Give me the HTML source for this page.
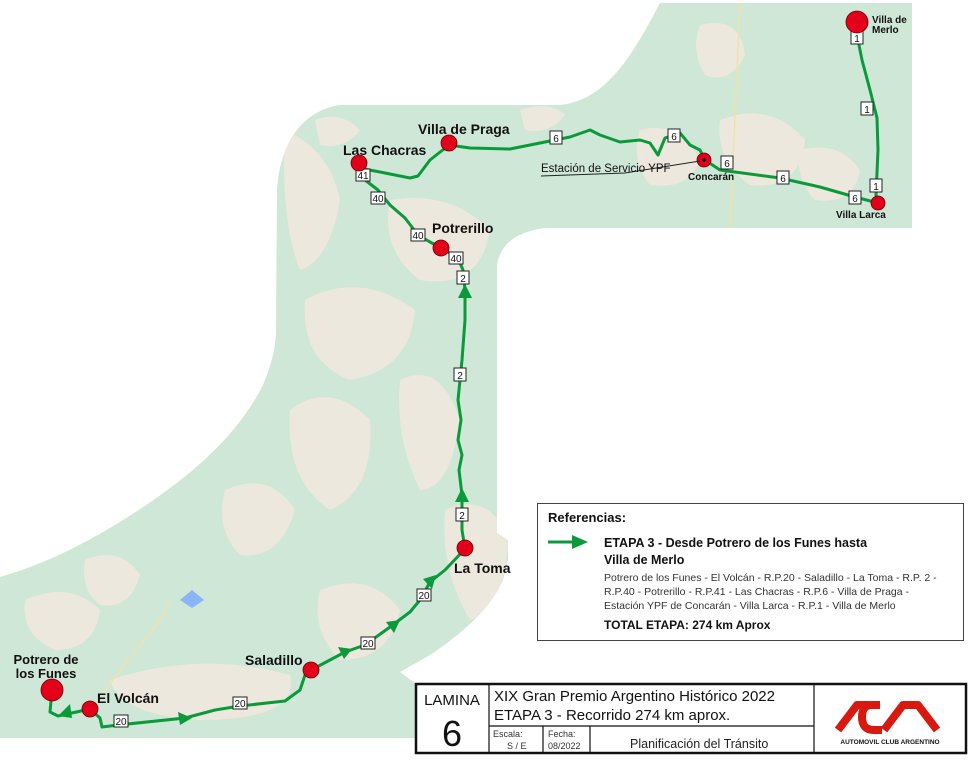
<!DOCTYPE html>
<html><head><meta charset="utf-8"><style>
html,body{margin:0;padding:0;background:#fff;width:976px;height:764px;overflow:hidden}
svg{display:block}
text{font-family:"Liberation Sans",sans-serif}
</style></head><body>
<svg width="976" height="764" viewBox="0 0 976 764" xmlns="http://www.w3.org/2000/svg">
<defs>
<clipPath id="mc"><path d="M660,3 L912,3 L912,228 L545,228 C515,232 500,245 497,265 L497,533 L508,540 L508,560 L503,580 C490,610 460,635 430,655 L400,672 L415,683 L415,738 L0,738 L0,577 C60,560 120,525 170,488 C215,455 245,420 262,387 C272,365 276,345 276,330 L277,190 C280,140 305,110 340,105 L560,105 C605,100 630,60 660,3 Z"/></clipPath>
</defs>
<g clip-path="url(#mc)">
<rect width="976" height="764" fill="#cfe7d6"/>
<g fill="#ede8dd">
<path d="M285,130 Q330,150 340,200 Q330,260 300,270 Q280,220 285,130 Z"/>
<path d="M390,200 Q450,190 490,230 Q480,290 420,280 Q380,250 390,200 Z"/>
<path d="M305,300 Q360,270 415,310 Q410,370 350,380 Q300,360 305,300 Z"/>
<path d="M290,410 Q330,380 370,420 Q375,490 330,510 Q285,480 290,410 Z"/>
<path d="M400,380 Q440,360 460,420 Q450,490 420,490 Q395,440 400,380 Z"/>
<path d="M445,510 Q490,490 508,540 Q505,610 470,620 Q440,570 445,510 Z"/>
<path d="M225,490 Q270,470 295,510 Q280,560 240,555 Q215,530 225,490 Z"/>
<path d="M110,680 Q200,650 290,675 Q300,720 200,720 Q120,715 110,680 Z"/>
<path d="M320,590 Q370,570 400,610 Q390,660 340,660 Q310,630 320,590 Z"/>
<path d="M25,600 Q70,580 100,610 Q95,650 55,650 Q20,635 25,600 Z"/>
<path d="M85,560 Q120,545 140,575 Q130,610 100,605 Q80,590 85,560 Z"/>
<path d="M640,130 Q680,120 700,160 Q690,190 650,185 Q630,160 640,130 Z"/>
<path d="M720,120 Q770,100 805,140 Q800,190 750,185 Q715,160 720,120 Z"/>
<path d="M800,150 Q840,140 860,170 Q855,205 815,200 Q795,180 800,150 Z"/>
<path d="M700,25 Q740,15 745,55 Q730,85 705,75 Q690,50 700,25 Z"/>
<path d="M520,110 Q550,100 565,115 Q550,135 525,130 Z"/>
<path d="M315,120 Q340,110 360,130 Q345,150 320,145 Z"/>
</g>
<path d="M180,600 l12,-10 l12,10 l-12,8 z" fill="#8ab4f8"/>
<path d="M740,3 L730,228" stroke="#f1e2a8" stroke-width="1.5" fill="none"/>
<path d="M90,709 L160,620 L170,600" stroke="#f1e2a8" stroke-width="1.5" fill="none"/>
</g>
<g fill="none" stroke="#0a9a3a" stroke-width="3" stroke-linejoin="round">
<path d="M52,690 L50,712 L58,716 L90,709"/>
<path d="M90,709 L100,718 L102,727 L118,725 L185,718 L215,710 L240,706 L285,701 L300,690 L305,675 L311,670"/>
<path d="M311,670 L330,660 L345,652 L365,645 L390,627 L410,612 L420,600 L430,582 L445,570 L465,549"/>
<path d="M465,549 L462,530 L462,495 L459,470 L462,455 L458,440 L461,420 L458,400 L462,360 L465,320 L465,290 L463,270 L458,258 L441,248"/>
<path d="M441,248 L430,242 L418,235 L405,218 L390,205 L378,190 L365,180 L359,163"/>
<path d="M359,168 L380,172 L395,175 L410,178 L418,176 L430,160 L449,145"/>
<path d="M449,145 L470,148 L510,149 L540,143 L570,137 L590,130 L600,135 L620,142 L640,140 L650,143 L658,155 L665,138 L680,133 L690,145 L700,150 L705,160"/>
<path d="M705,160 L720,170 L780,178 L820,187 L855,197 L878,203"/>
<path d="M878,203 L876,195 L878,150 L877,118 L870,90 L862,60 L857,35 L857,22"/>
</g>
<g fill="#0a9a3a">
<path d="M58,716 l12,-12 l2,14 z"/>
<path d="M192,718 l-14,-6 l2,13 z"/>
<path d="M352,649 l-14,-2 l6,12 z"/>
<path d="M400,620 l-14,2 l8,11 z"/>
<path d="M436,575 l-13,4 l9,10 z"/>
<path d="M462,488 l-7,14 h14 z"/>
<path d="M465,284 l-7,14 h14 z"/>
<path d="M857,30 l-5,10 h10 z"/>
</g>
<g font-size="10" text-anchor="middle">
<g fill="#fff" stroke="#222" stroke-width="1">
<rect x="114" y="715" width="14" height="12"/><rect x="233" y="697" width="14" height="12"/>
<rect x="361" y="637" width="14" height="12"/><rect x="417" y="589" width="14" height="12"/>
<rect x="456" y="508" width="12" height="13"/><rect x="454" y="368" width="12" height="13"/><rect x="457" y="271" width="12" height="13"/>
<rect x="449" y="252" width="14" height="12"/><rect x="411" y="229" width="14" height="12"/><rect x="371" y="192" width="14" height="12"/>
<rect x="356" y="169" width="14" height="12"/>
<rect x="550" y="131" width="12" height="13"/><rect x="668" y="129" width="12" height="13"/><rect x="721" y="156" width="12" height="13"/>
<rect x="777" y="171" width="12" height="13"/><rect x="849" y="191" width="12" height="13"/>
<rect x="851" y="31" width="12" height="13"/><rect x="861" y="102" width="12" height="13"/><rect x="870" y="179" width="12" height="13"/>
</g>
<g fill="#111">
<text x="121" y="725">20</text><text x="240" y="707">20</text><text x="368" y="647">20</text><text x="424" y="599">20</text>
<text x="462" y="519">2</text><text x="460" y="379">2</text><text x="463" y="282">2</text>
<text x="456" y="262">40</text><text x="418" y="239">40</text><text x="378" y="202">40</text><text x="363" y="179">41</text>
<text x="556" y="142">6</text><text x="674" y="140">6</text><text x="727" y="167">6</text><text x="783" y="182">6</text><text x="855" y="202">6</text>
<text x="857" y="42">1</text><text x="867" y="113">1</text><text x="876" y="190">1</text>
</g>
</g>
<g fill="#e3001b" stroke="#600" stroke-width="0.8">
<circle cx="52" cy="690" r="11"/><circle cx="90" cy="709" r="8"/><circle cx="311" cy="670" r="8"/>
<circle cx="465" cy="548" r="8"/><circle cx="441" cy="248" r="8"/><circle cx="359" cy="163" r="8"/>
<circle cx="449" cy="143" r="8"/><circle cx="704" cy="160" r="7"/><circle cx="878" cy="203" r="7"/><circle cx="857" cy="22" r="11"/>
</g>
<circle cx="704" cy="160" r="1.8" fill="#000"/>
<path d="M541,176 L625,173 L700,161" stroke="#222" stroke-width="1" fill="none"/>
<g fill="#111" font-weight="bold" font-size="14">
<text x="46" y="664" text-anchor="middle" font-size="13">Potrero de</text>
<text x="46" y="678" text-anchor="middle" font-size="13">los Funes</text>
<text x="97" y="703">El Volcán</text>
<text x="245" y="665">Saladillo</text>
<text x="454" y="573">La Toma</text>
<text x="432" y="233">Potrerillo</text>
<text x="343" y="155">Las Chacras</text>
<text x="418" y="134">Villa de Praga</text>
<text x="872" y="23" font-size="10">Villa de</text>
<text x="872" y="33" font-size="10">Merlo</text>
<text x="688" y="180" font-size="10">Concarán</text>
<text x="836" y="218" font-size="10">Villa Larca</text>
</g>
<text x="541" y="172" font-size="11.5" fill="#111">Estación de Servicio YPF</text>
<rect x="537.5" y="503.5" width="426" height="137" fill="#fff" stroke="#444" stroke-width="1"/>
<text x="548" y="522" font-size="13" font-weight="bold" fill="#111">Referencias:</text>
<path d="M548,542 H575" stroke="#0a9a3a" stroke-width="3"/>
<path d="M588,542 l-16,-7 v14 z" fill="#0a9a3a"/>
<text x="604" y="547" font-size="12.5" font-weight="bold" fill="#111">ETAPA 3 - Desde Potrero de los Funes hasta</text>
<text x="604" y="564" font-size="12.5" font-weight="bold" fill="#111">Villa de Merlo</text>
<g font-size="10.5" fill="#333">
<text x="604" y="581">Potrero de los Funes - El Volcán - R.P.20 - Saladillo - La Toma - R.P. 2 -</text>
<text x="604" y="595">R.P.40 - Potrerillo - R.P.41 - Las Chacras - R.P.6 - Villa de Praga -</text>
<text x="604" y="609">Estación YPF de Concarán - Villa Larca - R.P.1 - Villa de Merlo</text>
</g>
<text x="604" y="629" font-size="12" font-weight="bold" fill="#111">TOTAL ETAPA: 274 km Aprox</text>
<g stroke="#111" fill="none">
<rect x="416" y="684" width="550" height="69" stroke-width="2.5"/>
<path d="M489,684 V753 M489,726 H814 M814,684 V753 M543,726 V753 M590,726 V753" stroke-width="1.2"/>
</g>
<text x="452" y="705" font-size="15" text-anchor="middle" fill="#111">LAMINA</text>
<text x="452" y="746" font-size="36" text-anchor="middle" fill="#111">6</text>
<text x="494" y="701" font-size="15" fill="#111">XIX Gran Premio Argentino Histórico 2022</text>
<text x="494" y="720" font-size="15" fill="#111">ETAPA 3 - Recorrido 274 km aprox.</text>
<text x="493" y="737" font-size="9" fill="#333">Escala:</text>
<text x="507" y="749" font-size="9" fill="#333">S / E</text>
<text x="548" y="737" font-size="9" fill="#333">Fecha:</text>
<text x="548" y="749" font-size="9" fill="#333">08/2022</text>
<text x="630" y="748" font-size="12.5" fill="#222">Planificación del Tránsito</text>
<g fill="none" stroke="#d9180f" stroke-width="8" stroke-linejoin="round">
<path d="M838,730 L857,705 H870"/>
<path d="M880,705 H872 Q862,705 862,717 Q862,730 874,730 H882"/>
<path d="M884,730 L903,705 H918 L937,730"/>
</g>
<text x="890" y="744" font-size="6.5" font-weight="bold" text-anchor="middle" fill="#111">AUTOMOVIL CLUB ARGENTINO</text>
</svg>
</body></html>
